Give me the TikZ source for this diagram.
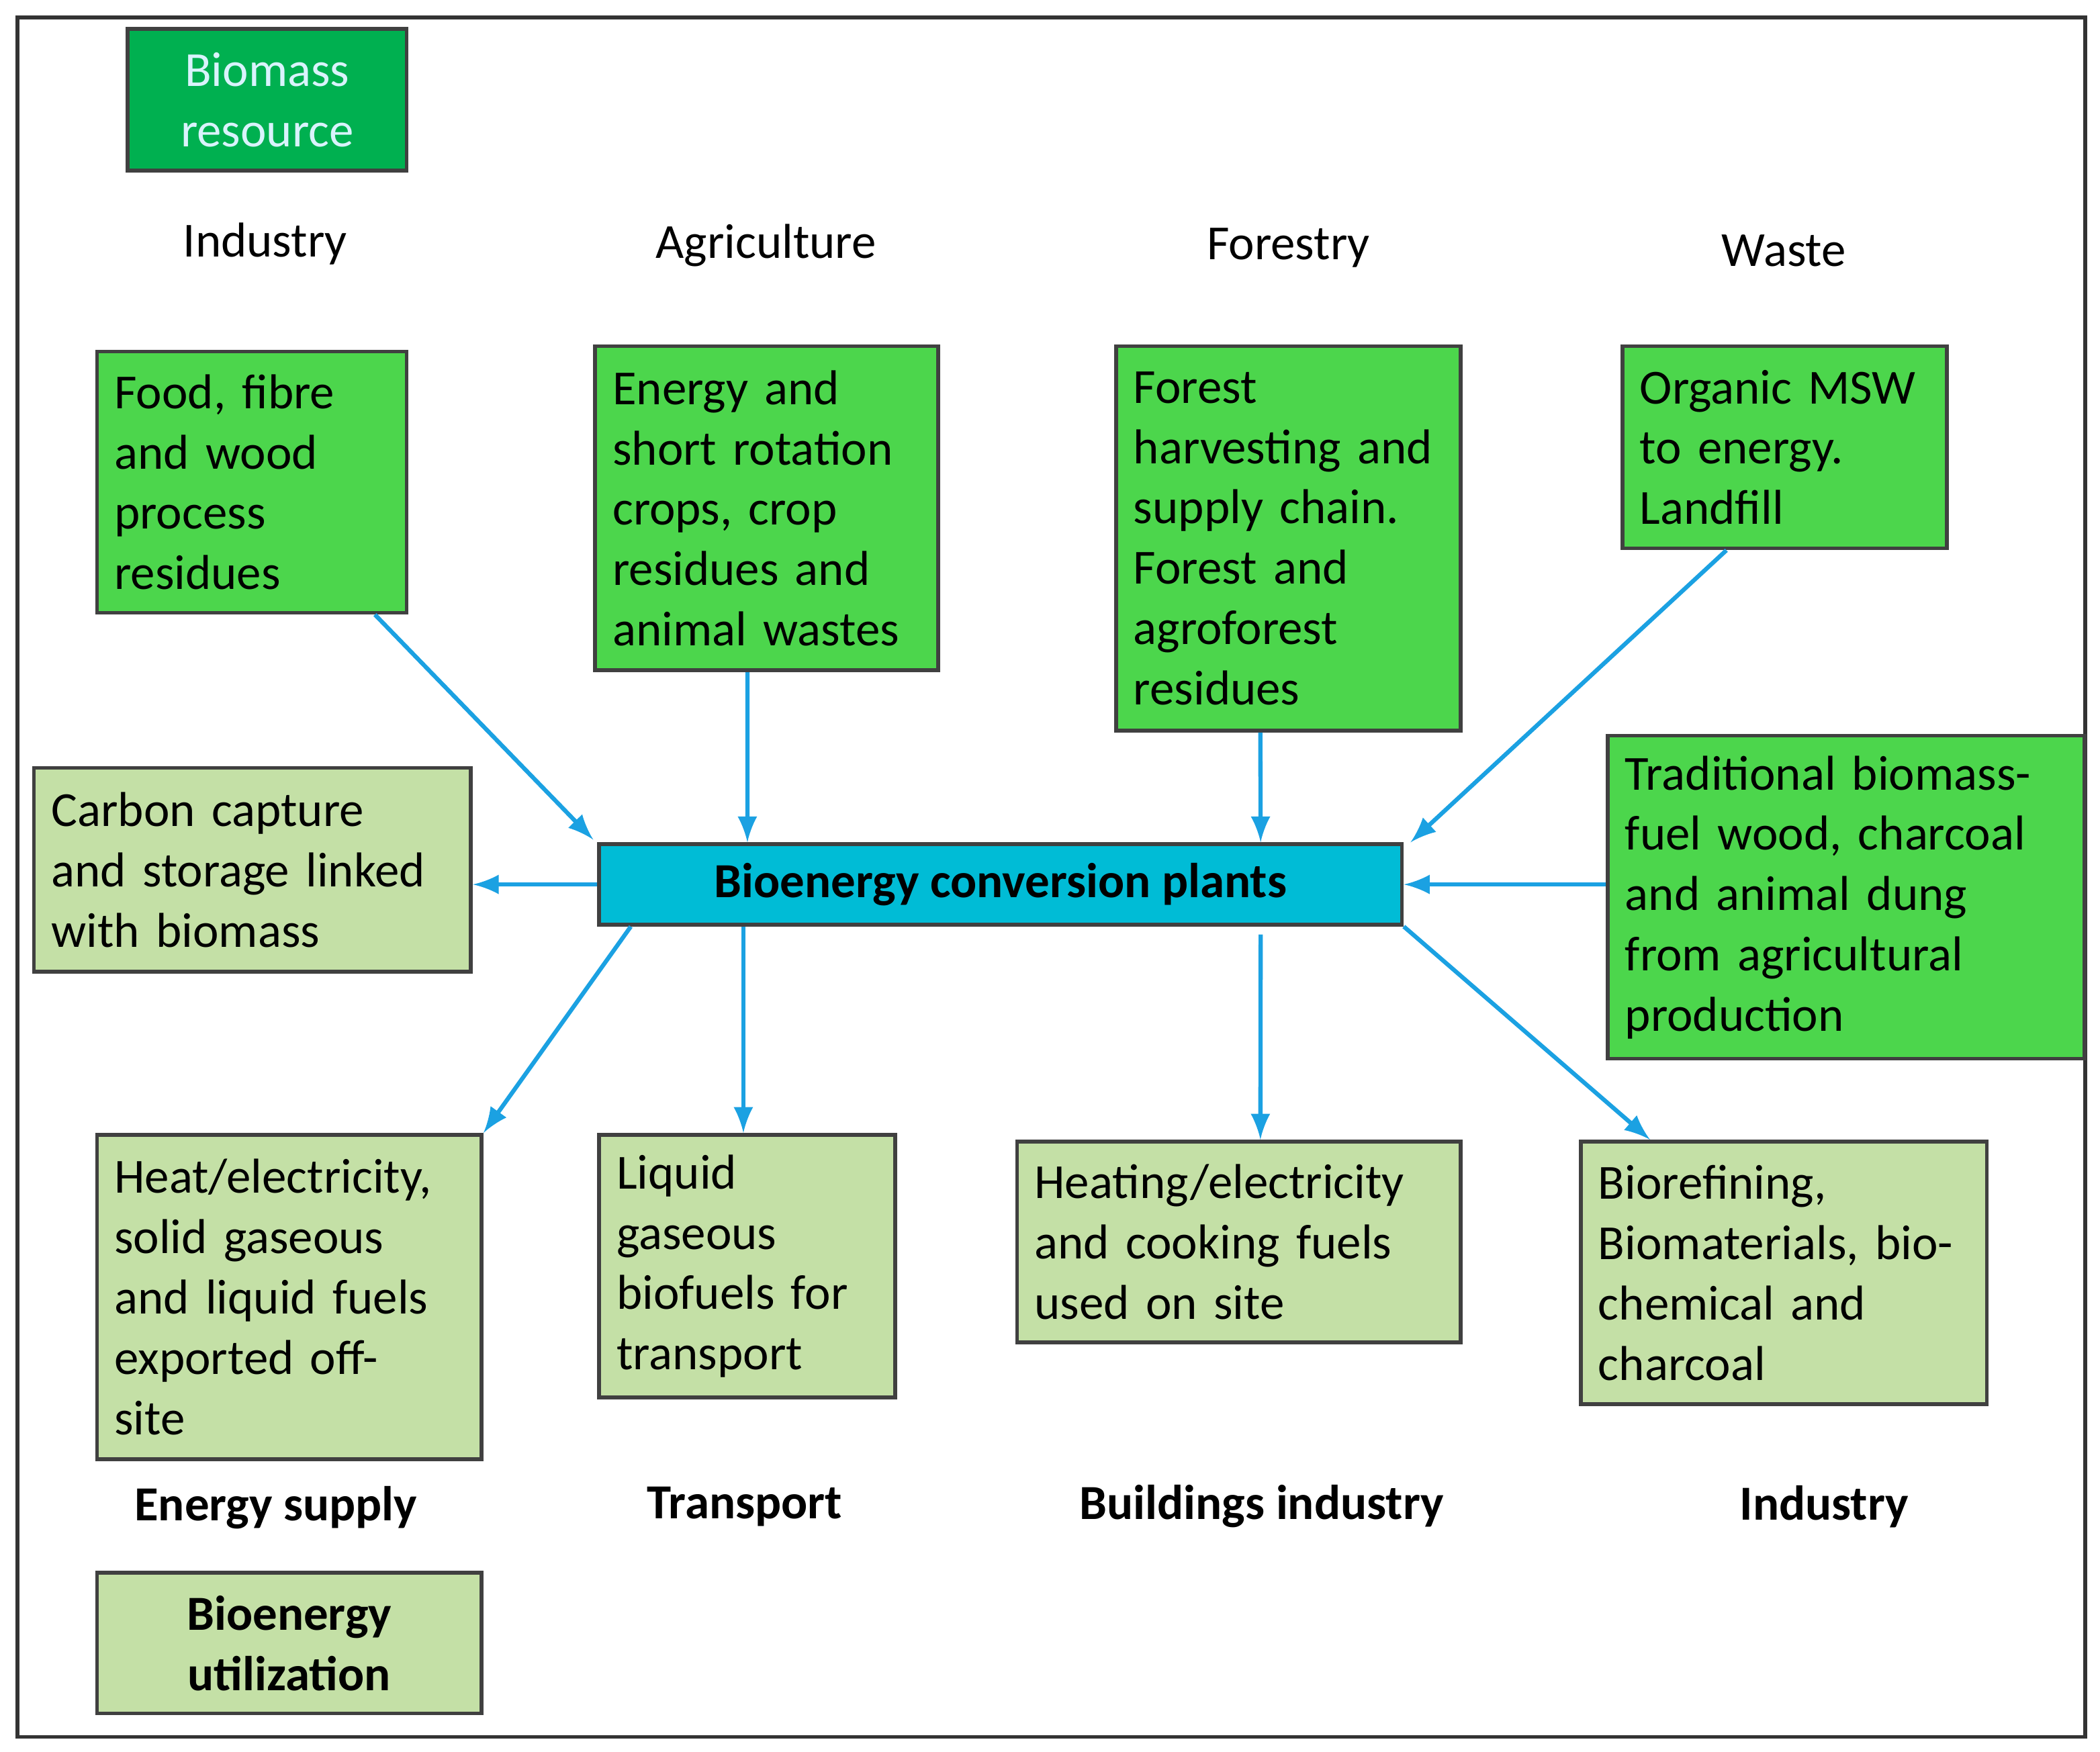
\documentclass[tikz,border=0pt]{standalone}
\usepackage{fontspec}
\setmainfont{Carlito}
\definecolor{dg}{HTML}{00B050}
\definecolor{bg}{HTML}{4CD64C}
\definecolor{lg}{HTML}{C4E0A6}
\definecolor{cb}{HTML}{00BCD6}
\definecolor{ar}{HTML}{1BA1E2}
\begin{document}
\begin{tikzpicture}[x=0.01cm,y=-0.01cm,
 bx/.style={draw=black!75,line width=0.8pt,inner xsep=0.13cm,inner ysep=0.1cm,align=left,font=\fontsize{10.4}{12.8}\selectfont,anchor=north west},
 hd/.style={font=\fontsize{10.4}{13}\selectfont},
 bl/.style={font=\bfseries\fontsize{10.4}{12.8}\selectfont},
 arr/.style={draw=ar,line width=0.9pt,-latex}]
\useasboundingbox (0,0) rectangle (1568,1308);
\draw[black!80,line width=0.8pt] (13,13) rectangle (1557,1297);
\node[bx,fill=dg,text=cyan!15,align=center,minimum width=2.08cm,minimum height=1.06cm,inner sep=0pt] (br) at (94,20) {Biomass\\resource};
\node[hd] (h1) at (198,182) {Industry};
\node[hd] (h2) at (572,183) {Agriculture};
\node[hd] (h3) at (962,185) {Forestry};
\node[hd] (h4) at (1332,187) {Waste};
\node[bx,fill=bg,text width=2.05cm,minimum height=1.95cm] (b1) at (71,261) {Food, fibre\\and wood\\process\\residues};
\node[bx,fill=bg,text width=2.3cm,minimum height=2.42cm] (b2) at (443,257) {Energy and\\short rotation\\crops, crop\\residues and\\animal wastes};
\node[bx,fill=bg,text width=2.31cm,minimum height=2.87cm] (b3) at (832,257) {Forest\\harvesting and\\supply chain.\\Forest and\\agroforest\\residues};
\node[bx,fill=bg,text width=2.16cm,minimum height=1.51cm] (b4) at (1210,257) {Organic MSW\\to energy.\\Landfill};
\node[bx,fill=bg,text width=3.3cm,minimum height=2.41cm] (tr) at (1199,548) {Traditional biomass-\\fuel wood, charcoal\\and animal dung\\from agricultural\\production};
\node[draw=black!75,line width=0.8pt,fill=cb,minimum width=5.99cm,minimum height=0.6cm,inner sep=0pt,bl,anchor=north west] (c) at (446,629) {Bioenergy conversion plants};
\node[bx,fill=lg,text width=3.0cm,minimum height=1.52cm] (cc) at (24,572) {Carbon capture\\and storage linked\\with biomass};
\node[bx,fill=lg,text width=2.61cm,minimum height=2.42cm] (o1) at (71,846) {Heat/electricity,\\solid gaseous\\and liquid fuels\\exported off-\\site};
\node[bx,fill=lg,text width=1.95cm,minimum height=1.96cm] (o2) at (446,846) {Liquid\\gaseous\\biofuels for\\transport};
\node[bx,fill=lg,text width=3.05cm,minimum height=1.5cm] (o3) at (758,851) {Heating/electricity\\and cooking fuels\\used on site};
\node[bx,fill=lg,text width=2.77cm,minimum height=1.96cm] (o4) at (1179,851) {Biorefining,\\Biomaterials, bio-\\chemical and\\charcoal};
\node[bl] (l1) at (206,1126) {Energy supply};
\node[bl] (l2) at (556,1125) {Transport};
\node[bl] (l3) at (942,1125) {Buildings industry};
\node[bl] (l4) at (1362,1125) {Industry};
\node[bx,fill=lg,bl,align=center,minimum width=2.87cm,minimum height=1.05cm,inner sep=0pt] (bu) at (71,1173) {Bioenergy\\utilization};
\draw[arr] ([xshift=-0.25cm]b1.south east) -- ([xshift=-0.03cm,yshift=0.02cm]c.north west);
\draw[arr] ([xshift=1.15cm]b2.south west) -- ([xshift=1.12cm]c.north west);
\draw[arr] ([xshift=1.09cm]b3.south west) -- ([xshift=4.95cm]c.north west);
\draw[arr] ([xshift=0.79cm]b4.south west) -- ([xshift=0.05cm]c.north east);
\draw[arr] (tr.west |- c.east) -- (c.east);
\draw[arr] (c.west) -- (cc.east |- c.west);
\draw[arr] ([xshift=0.25cm]c.south west) -- ([xshift=-0.0cm]o1.north east);
\draw[arr] ([xshift=1.09cm]c.south west) -- ([xshift=1.09cm]o2.north west);
\draw[arr] ([xshift=4.95cm,yshift=-0.06cm]c.south west) -- ([xshift=1.83cm]o3.north west);
\draw[arr] (c.south east) -- ([xshift=0.53cm]o4.north west);
\end{tikzpicture}
\end{document}
